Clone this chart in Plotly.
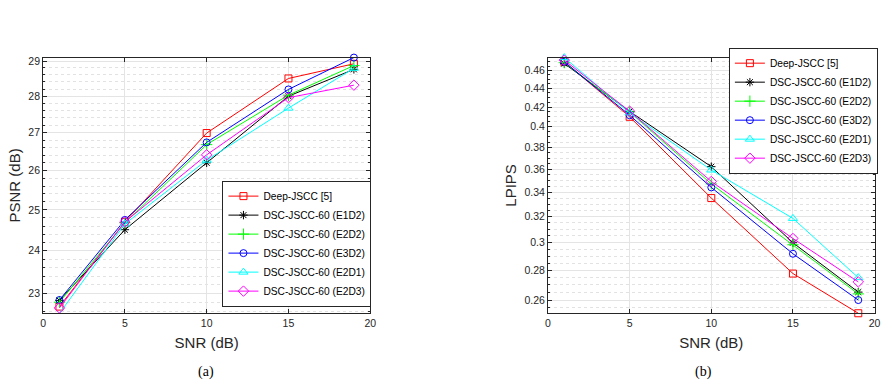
import math
import plotly.graph_objects as go

# ---------------- data ----------------
snr = [1, 5, 10, 15, 19]
names = ["Deep-JSCC [5]", "DSC-JSCC-60 (E1D2)", "DSC-JSCC-60 (E2D2)",
         "DSC-JSCC-60 (E3D2)", "DSC-JSCC-60 (E2D1)", "DSC-JSCC-60 (E2D3)"]

psnr_deep = [22.70, 24.70, 26.99, 28.50, 28.92]
psnr_e1d2 = [22.84, 24.51, 26.20, 28.00, 28.76]
psnr_e2d2 = [22.80, 24.68, 26.68, 28.03, 28.87]
psnr_e3d2 = [22.85, 24.75, 26.74, 28.19, 29.10]
psnr_e2d1 = [22.55, 24.65, 26.27, 27.67, 28.79]
psnr_e2d3 = [22.67, 24.70, 26.41, 27.96, 28.31]

lpips_deep = [0.470, 0.4100, 0.3350, 0.2777, 0.2516]
lpips_e1d2 = [0.468, 0.4155, 0.3622, 0.2998, 0.2652]
lpips_e2d2 = [0.469, 0.4150, 0.3470, 0.2983, 0.2640]
lpips_e3d2 = [0.470, 0.4116, 0.3440, 0.2917, 0.2600]
lpips_e2d1 = [0.475, 0.4140, 0.3592, 0.3185, 0.2749]
lpips_e2d3 = [0.472, 0.4157, 0.3491, 0.3030, 0.2720]

psnr_ticks = [23, 24, 25, 26, 27, 28, 29]
lpips_ticks = [0.26, 0.28, 0.3, 0.32, 0.34, 0.36, 0.38, 0.4, 0.42, 0.44, 0.46]
x_ticks = [0, 5, 10, 15, 20]

psnr_series = [psnr_deep, psnr_e1d2, psnr_e2d2, psnr_e3d2, psnr_e2d1, psnr_e2d3]
lpips_series = [lpips_deep, lpips_e1d2, lpips_e2d2, lpips_e3d2, lpips_e2d1, lpips_e2d3]

# ---------------- styles ----------------
colors = ["#FF0000", "#000000", "#00FF00", "#0000FF", "#00FFFF", "#FF00FF"]
symbols = ["square-open", "asterisk-open", "cross-thin-open", "circle-open",
           "triangle-up-open", "diamond-open"]
sizes = [7, 7, 8, 7, 8, 8]

FONT = "Liberation Sans, Arial, Helvetica, sans-serif"
AX = "#262626"

fig = go.Figure()
for i in range(6):
    fig.add_trace(go.Scatter(
        x=snr, y=psnr_series[i], name=names[i], mode="lines+markers",
        line=dict(color=colors[i], width=1),
        marker=dict(symbol=symbols[i], size=sizes[i], color=colors[i],
                    line=dict(color=colors[i], width=1)),
        cliponaxis=False, xaxis="x", yaxis="y", legend="legend"))
for i in range(6):
    fig.add_trace(go.Scatter(
        x=snr, y=lpips_series[i], name=names[i], mode="lines+markers",
        line=dict(color=colors[i], width=1),
        marker=dict(symbol=symbols[i], size=sizes[i], color=colors[i],
                    line=dict(color=colors[i], width=1)),
        cliponaxis=False, xaxis="x2", yaxis="y2", legend="legend2"))


def minor_vals(lo, hi, step):
    n0 = math.ceil(lo / step - 1e-9)
    n1 = math.floor(hi / step + 1e-9)
    return [round(k * step, 6) for k in range(n0, n1 + 1)]


def base_axis():
    return dict(showline=True, linecolor=AX, linewidth=1, mirror="allticks",
                ticks="inside", ticklen=4, tickcolor=AX, tickwidth=1,
                showgrid=True, gridcolor="#E4E4E4", gridwidth=1, zeroline=False,
                tickfont=dict(family=FONT, size=10.5, color=AX))

all_p = [v for s in psnr_series for v in s]
all_l = [v for s in lpips_series for v in s]
p_lo, p_hi = min(all_p), max(all_p)
l_lo, l_hi = min(all_l), max(all_l)

TITLE_FONT = dict(family=FONT, size=15, color=AX)
MINOR_GRID = "#E2E2E2"

xa = base_axis()
xa.update(domain=[40.5 / 892, 371 / 892], range=[0, 20], tickvals=x_ticks,
          anchor="y", title=dict(text="SNR (dB)", font=TITLE_FONT, standoff=9))
ya = base_axis()
ya.update(domain=[1 - 312.7 / 385, 1 - 55 / 385], type="log",
          range=[math.log10(p_lo), math.log10(p_hi)], tickvals=psnr_ticks, anchor="x",
          title=dict(text="PSNR (dB)", font=TITLE_FONT, standoff=4),
          minor=dict(tickvals=minor_vals(p_lo, p_hi, 0.2), ticks="inside", ticklen=2,
                     tickcolor=AX, showgrid=True, gridcolor=MINOR_GRID, griddash="dot"))

xa2 = base_axis()
xa2.update(domain=[550.5 / 892, 880.5 / 892], range=[0, 20], tickvals=x_ticks,
           anchor="y2", title=dict(text="SNR (dB)", font=TITLE_FONT, standoff=9))
ya2 = base_axis()
ya2.update(domain=[1 - 312.7 / 385, 1 - 55 / 385], type="log",
           range=[math.log10(l_lo), math.log10(l_hi)], tickvals=lpips_ticks,
           ticktext=[("%g" % v) for v in lpips_ticks], anchor="x2",
           title=dict(text="LPIPS", font=TITLE_FONT, standoff=4),
           minor=dict(tickvals=minor_vals(l_lo, l_hi, 0.005), ticks="inside", ticklen=2,
                      tickcolor=AX, showgrid=True, gridcolor=MINOR_GRID, griddash="dot"))

leg = dict(bgcolor="white", bordercolor=AX, borderwidth=1, itemwidth=30,
           font=dict(family=FONT, size=10.2, color="#000000"), tracegroupgap=0,
           xanchor="left", yanchor="bottom")
leg1 = dict(leg, x=221.7 / 892, y=1 - 306 / 385)
leg2 = dict(leg, x=733.3 / 892, y=1 - 172 / 385)

CAP = dict(family="Liberation Serif, Times New Roman, serif", size=14, color="#000")
fig.update_layout(
    width=892, height=385, margin=dict(l=0, r=0, t=0, b=0),
    paper_bgcolor="white", plot_bgcolor="white",
    xaxis=xa, yaxis=ya, xaxis2=xa2, yaxis2=ya2,
    legend=leg1, legend2=leg2, showlegend=True,
    annotations=[
        dict(text="(a)", x=205 / 892, y=1 - 372 / 385, xref="paper", yref="paper",
             xanchor="center", yanchor="middle", showarrow=False, font=CAP),
        dict(text="(b)", x=708 / 892, y=1 - 372 / 385, xref="paper", yref="paper",
             xanchor="center", yanchor="middle", showarrow=False, font=CAP),
    ],
)

fig.write_html("out.html")
